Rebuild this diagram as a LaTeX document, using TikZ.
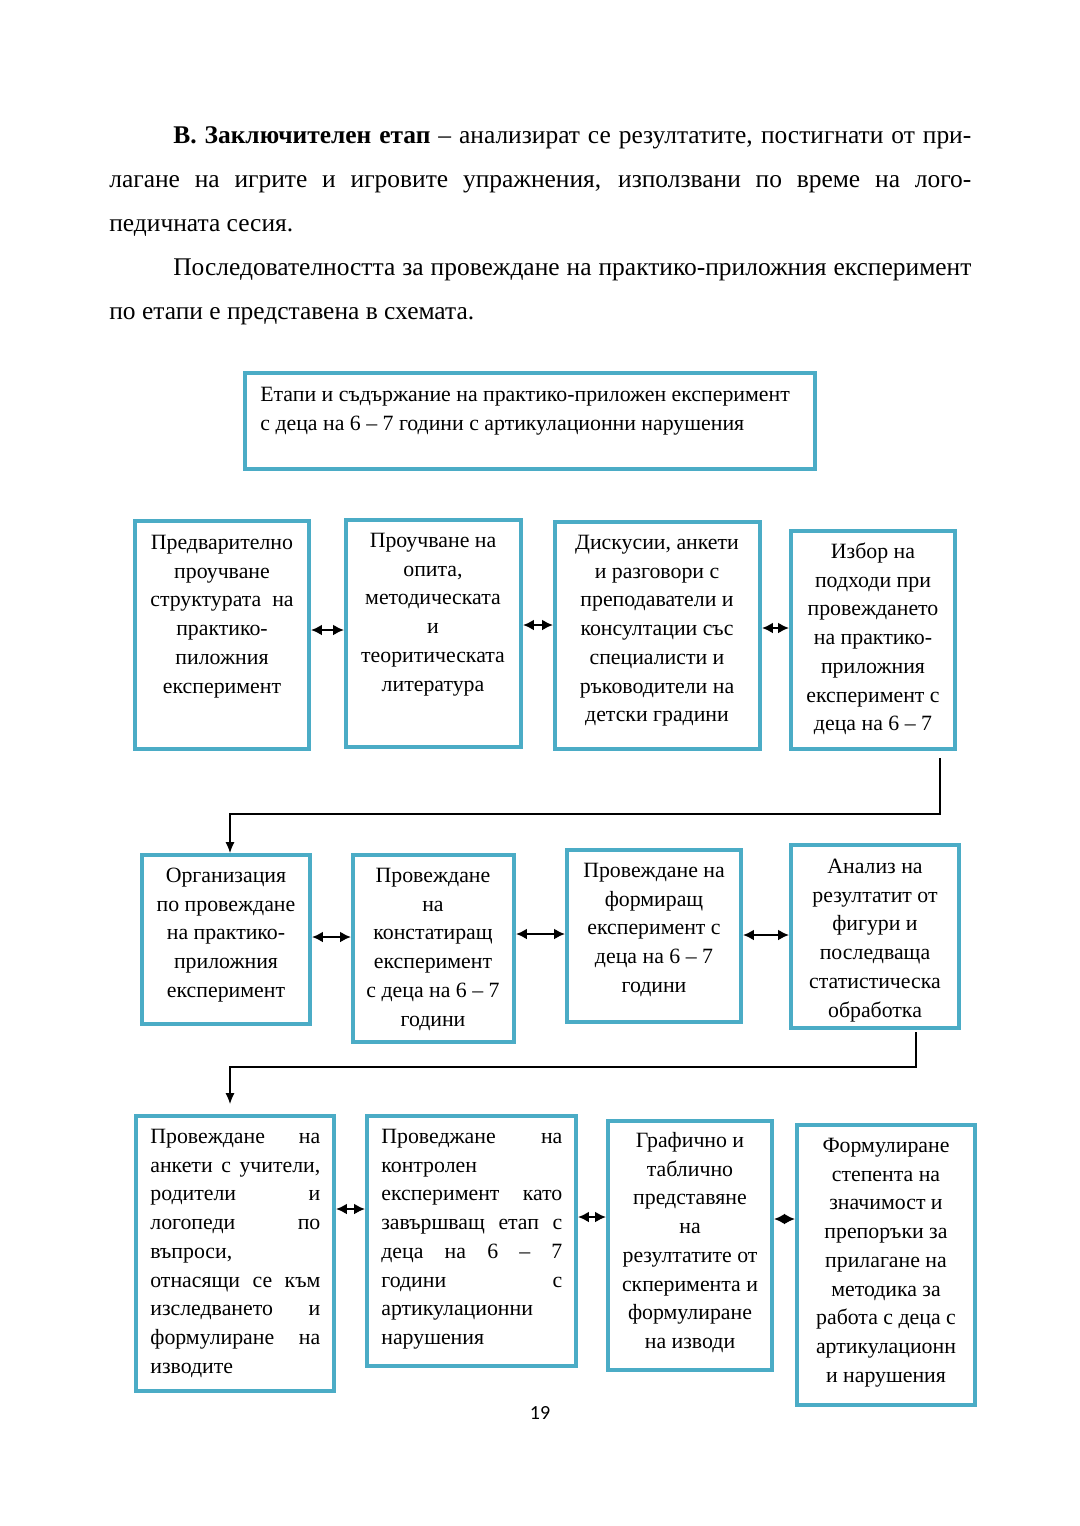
\documentclass[tikz,border=0pt]{standalone}
\usepackage{fontspec}
\setmainfont{Liberation Serif}
\newfontfamily\pgfont{Carlito}
\usetikzlibrary{arrows.meta,calc}
\definecolor{tealb}{HTML}{4BACC6}
\newcommand{\jset}{\tolerance=10000 \hyphenpenalty=10000 \hbadness=10000 \relax}
\begin{document}
\begin{tikzpicture}[x=0.55pt,y=-0.55pt,
  bx/.style 2 args={draw=tealb, line width=2.2pt, rectangle, inner sep=0pt,
     minimum width=#1*0.55pt, minimum height=#2*0.55pt},
  tx/.style={font=\fontsize{12}{15.8}\selectfont, align=center, inner sep=0pt, anchor=north},
  jtx/.style={font=\fontsize{12}{15.8}\selectfont,
     align=justify, inner sep=0pt, anchor=north west, text width=#1*0.55pt},
  dbl/.style={{Latex[length=6pt,width=6pt]}-{Latex[length=6pt,width=6pt]}, line width=1.1pt},
  conn/.style={-{Latex[length=6pt,width=5pt]}, line width=0.6pt}]
\useasboundingbox (0,0) rectangle (1080,1526);

% header text
\node[anchor=north west, inner sep=0pt, text width=862*0.55pt, align=justify,
  font=\fontsize{14}{24.2}\selectfont] (hdr) at (109,112)
{\jset\strut\hspace*{35.2pt}\textbf{В. Заключителен етап} – анализират се резултатите, постигнати от при-\linebreak
лагане на игрите и игровите упражнения, използвани по време на лого-\linebreak
педичната сесия.\par
\hspace*{35.2pt}Последователността за провеждане на практико-приложния експеримент\linebreak
по етапи е представена в схемата.};

% title box
\node[bx={570}{96}] (T) at (530,421) {};
\node[anchor=north west, inner sep=0pt, align=left, font=\fontsize{12}{15.8}\selectfont] (tt) at (260,381)
{\strut Етапи и съдържание на практико-приложен експеримент\\с деца на 6 – 7 години с артикулационни нарушения};

% row 1
\node[bx={174}{228}] (B1) at (222,635) {};
\node[bx={175}{227}] (B2) at (433.5,633.5) {};
\node[bx={205}{227}] (B3) at (657.5,635.5) {};
\node[bx={164}{218}] (B4) at (873,640) {};
\node[tx] (t1) at (222,529) {\strut Предварително\\проучване\\структурата \ на\\практико-\\пиложния\\експеримент};
\node[tx] (t2) at (433,527) {\strut Проучване на\\опита,\\методическата\\и\\теоритическата\\литература};
\node[tx] (t3) at (657,529) {\strut Дискусии, анкети\\и разговори с\\преподаватели и\\консултации със\\специалисти и\\ръководители на\\детски градини};
\node[tx] (t4) at (873,538) {\strut Избор на\\подходи при\\провеждането\\на практико-\\приложния\\експеримент с\\деца на 6 – 7};
\draw[dbl] (B1.east |- 0,630) -- (B2.west |- 0,630);
\draw[dbl] (B2.east |- 0,625) -- (B3.west |- 0,625);
\draw[dbl] (B3.east |- 0,628) -- (B4.west |- 0,628);

% row 2
\node[bx={168}{169}] (B5) at (226,939.5) {};
\node[bx={161}{187}] (B6) at (433.5,948.5) {};
\node[bx={174}{172}] (B7) at (654,936) {};
\node[bx={168}{183}] (B8) at (875,936.5) {};
\node[tx] (t5) at (226,862) {\strut Организация\\по провеждане\\на практико-\\приложния\\експеримент};
\node[tx] (t6) at (433,862) {\strut Провеждане\\на\\констатиращ\\експеримент\\с деца на 6 – 7\\години};
\node[tx] (t7) at (654,857) {\strut Провеждане на\\формиращ\\експеримент с\\деца на 6 – 7\\години};
\node[tx] (t8) at (875,853) {\strut Анализ на\\резултатит от\\фигури и\\последваща\\статистическа\\обработка};
\draw[dbl] (B5.east |- 0,937) -- (B6.west |- 0,937);
\draw[dbl] (B6.east |- 0,934) -- (B7.west |- 0,934);
\draw[dbl] (B7.east |- 0,935) -- (B8.west |- 0,935);

% row 3
\node[bx={198}{275}] (B9) at (235,1253.5) {};
\node[bx={209}{250}] (B10) at (471.5,1241) {};
\node[bx={164}{249}] (B11) at (690,1245.5) {};
\node[bx={178}{280}] (B12) at (886,1265) {};
\node[jtx=170] (t9) at (150,1123) {\jset\strut Провеждане на\linebreak анкети с учители,\linebreak родители и\linebreak логопеди по\linebreak въпроси,\linebreak отнасящи се към\linebreak изследването и\linebreak формулиране на\linebreak изводите};
\node[jtx=181] (t10) at (381,1123) {\jset\strut Проведжане на\linebreak контролен\linebreak експеримент като\linebreak завършващ етап с\linebreak деца на 6 – 7\linebreak години с\linebreak артикулационни\linebreak нарушения};
\node[tx] (t11) at (690,1127) {\strut Графично и\\таблично\\представяне\\на\\резултатите от\\скперимента и\\формулиране\\на изводи};
\node[tx] (t12) at (886,1132) {\strut Формулиране\\степента на\\значимост и\\препоръки за\\прилагане на\\методика за\\работа с деца с\\артикулационн\\и нарушения};
\draw[dbl] (B9.east |- 0,1209) -- (B10.west |- 0,1209);
\draw[dbl] (B10.east |- 0,1217) -- (B11.west |- 0,1217);
\draw[dbl] (B11.east |- 0,1219) -- (B12.west |- 0,1219);

% connectors between rows
\coordinate (c1) at (940,758);
\draw[conn] (c1) |- (230,814) -- (B5.north -| 230,0);
\coordinate (c2) at (916,1032);
\draw[conn, shorten >=5.5pt] (c2) |- (230,1067) -- (B9.north -| 230,0);

% page number
\node[font=\pgfont\fontsize{11}{13}\selectfont, inner sep=0pt] (pg) at (540,1413) {19};
\end{tikzpicture}
\end{document}
